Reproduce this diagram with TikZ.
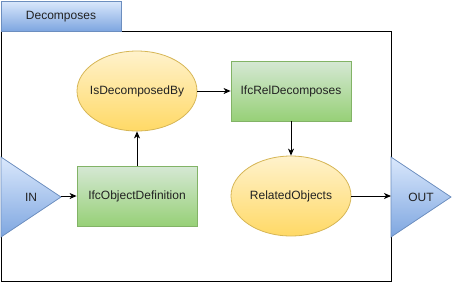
\documentclass[tikz,border=0pt]{standalone}
\usepackage{fontspec}
\setmainfont{Liberation Sans}
\usetikzlibrary{shapes.geometric,arrows.meta}
\definecolor{bluetop}{HTML}{DAE8FC}
\definecolor{bluebot}{HTML}{7EA6E0}
\definecolor{bluestroke}{HTML}{6C8EBF}
\definecolor{greentop}{HTML}{D5E8D4}
\definecolor{greenbot}{HTML}{97D077}
\definecolor{greenstroke}{HTML}{82B366}
\definecolor{yellowtop}{HTML}{FFF2CC}
\definecolor{yellowbot}{HTML}{FFD966}
\definecolor{yellowstroke}{HTML}{D6B656}
\definecolor{txt}{HTML}{222222}
\begin{document}
\begin{tikzpicture}[x=1pt,y=-1pt,
  every node/.style={font=\fontsize{12}{14}\selectfont, text=txt},
  bluebox/.style={draw=bluestroke, top color=bluetop, bottom color=bluebot, line width=0.8pt},
  greenbox/.style={rectangle, draw=greenstroke, top color=greentop, bottom color=greenbot, minimum width=120pt, minimum height=60pt, inner sep=0pt, line width=0.8pt},
  yellowell/.style={ellipse, draw=yellowstroke, top color=yellowtop, bottom color=yellowbot, minimum width=120pt, minimum height=80pt, inner sep=0pt, line width=0.8pt},
  conn/.style={draw=black, line width=0.9pt, -{Stealth[length=7pt,width=6pt,inset=2pt]}}]
\useasboundingbox (0,0) rectangle (452,282);
% frame
\draw[black, line width=0.9pt] (1,31) rectangle (391,281);
% tab
\path[bluebox] (1,1) rectangle (121,31);
\node (title) at (61,17) {Decomposes};
% triangles
\path[bluebox] (1,157) -- (61,197) -- (1,237) -- cycle;
\path[bluebox] (391,157) -- (451,197) -- (391,237) -- cycle;
\node (in) at (31,197) {IN};
\node (out) at (421,197) {OUT};
\coordinate (intip) at (61,196);
\coordinate (outleft) at (391,196);
% nodes
\node[yellowell] (isdec) at (137,91) {\makebox[0pt]{IsDecomposedBy}};
\node[greenbox] (rel) at (291,91) {IfcRelDecomposes};
\node[greenbox] (objdef) at (137,196) {IfcObjectDefinition};
\node[yellowell] (relobj) at (291,196) {\makebox[0pt]{RelatedObjects}};
% connectors
\draw[conn] (intip) -- (objdef.west);
\draw[conn] (objdef.north) -- (isdec.south);
\draw[conn] (isdec.east) -- (rel.west);
\draw[conn] (rel.south) -- (relobj.north);
\draw[conn] (relobj.east) -- (outleft);
\end{tikzpicture}
\end{document}
